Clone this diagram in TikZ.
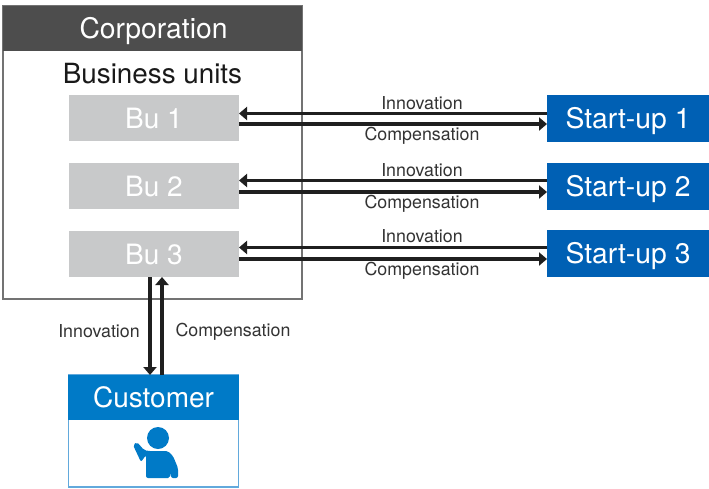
\documentclass[tikz,border=0pt]{standalone}
\usepackage{fontspec}
\setmainfont{TeX Gyre Heros}
\usetikzlibrary{arrows.meta}
\definecolor{hdr}{HTML}{4D4D4D}
\definecolor{bugray}{HTML}{C8C9CA}
\definecolor{supblue}{HTML}{0060B4}
\definecolor{cusblue}{HTML}{007AC7}
\definecolor{cusedge}{HTML}{62A9DC}
\definecolor{txt}{HTML}{333333}
\tikzset{
  x=1pt,y=-1pt,
  box/.style={minimum width=#1,inner sep=0pt,outer sep=0pt,anchor=north west},
  bubox/.style={box=170pt,minimum height=46pt,fill=bugray,text=white,font=\fontsize{28}{30}\selectfont},
  subox/.style={box=162pt,minimum height=47pt,fill=supblue,text=white,font=\fontsize{28.3}{30}\selectfont},
  flow/.style={line width=3.6pt,draw=black!88,-{Triangle[width=13pt,length=8pt,inset=0pt]}},
  lab/.style={inner sep=0pt,text=txt,font=\fontsize{17.8}{20}\selectfont},
}
\begin{document}
\begin{tikzpicture}
\useasboundingbox (0,0) rectangle (709,488);
\fill[white] (0,0) rectangle (709,488);
\node[box=299pt,minimum height=293pt,draw=black!55,line width=1.2pt] (corp) at (3,6) {};
\node[box=299pt,minimum height=45pt,fill=hdr] (corph) at (3,6) {};
\node[inner sep=0pt,text=white,font=\fontsize{28.3}{30}\selectfont] (corpt) at (153.5,31) {Corporation};
\node[inner sep=0pt,font=\fontsize{27.8}{30}\selectfont,text=black!90] (units) at (152.5,74) {Business units};
\node[bubox] (bu1) at (69,95) {Bu 1};
\node[bubox] (bu2) at (69,163) {Bu 2};
\node[bubox] (bu3) at (69,231) {Bu 3};
\node[subox] (su1) at (547,95) {\raisebox{-10pt}[0pt][0pt]{Start-up 1}};
\node[subox] (su2) at (547,163) {\raisebox{-10pt}[0pt][0pt]{Start-up 2}};
\node[subox] (su3) at (547,230) {\raisebox{-10pt}[0pt][0pt]{Start-up 3}};
\node[box=170pt,minimum height=112pt,draw=cusedge,line width=1.3pt] (cust) at (68.5,375) {};
\node[box=171pt,minimum height=45pt,fill=cusblue,text=white,font=\fontsize{28}{30}\selectfont] (custh) at (68,375) {Customer};
% connectors: Innovation flows to the business unit, Compensation to the start-up
\foreach \n/\ya/\yb in {1/5/-6,2/6/-6,3/6/-5}{
  \draw[flow] ([yshift=\ya pt]su\n.west) -- ([yshift=\ya pt]su\n.west -| bu\n.east);
  \draw[flow] ([yshift=\yb pt]bu\n.east) -- ([yshift=\yb pt]bu\n.east -| su\n.west);
}
\draw[flow] ([xshift=-4pt]bu3.south) -- ([xshift=-4pt]bu3.south |- custh.north);
\draw[flow,line width=3.2pt] ([xshift=8pt]bu3.south |- custh.north) -- ([xshift=8pt]bu3.south);
% labels
\node[lab] (i1) at (422,103.5) {Innovation};
\node[lab] (c1) at (422,136) {Compensation};
\node[lab] (i2) at (422,170.5) {Innovation};
\node[lab] (c2) at (422,204) {Compensation};
\node[lab] (i3) at (422,236.5) {Innovation};
\node[lab] (c3) at (422,271) {Compensation};
\node[lab] (i4) at (99,331) {Innovation};
\node[lab] (c4) at (233,332) {Compensation};
% person
\fill[cusblue] (158,438) circle (11);
\fill[cusblue,rounded corners=2pt] (146,478) -- (146,455) -- (141,462) -- (133,445) -- (137,442) -- (144,450) -- (148,451) -- (168,451) -- (173,456) -- (178,468) -- (178,478) -- (171,478) -- (171,472) -- (170,478) -- cycle;
\end{tikzpicture}
\end{document}
